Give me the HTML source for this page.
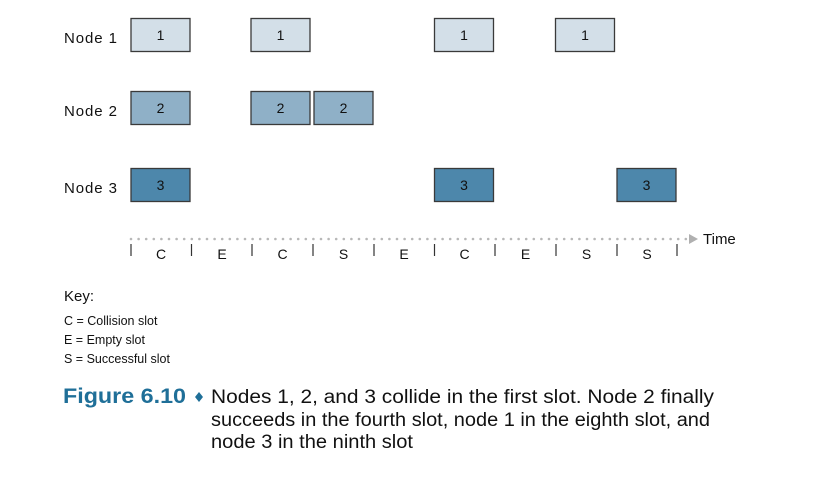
<!DOCTYPE html>
<html><head><meta charset="utf-8"><style>
html,body{margin:0;padding:0;background:#fff;}
svg{display:block;font-family:"Liberation Sans",sans-serif;}
</style></head><body>
<svg width="836" height="488" viewBox="0 0 836 488" xmlns="http://www.w3.org/2000/svg">
<g font-size="15" fill="#111">
<text x="64" y="43" textLength="53">Node 1</text>
<text x="64" y="116" textLength="53">Node 2</text>
<text x="64" y="193" textLength="53">Node 3</text>
</g>
<g stroke="#3a3a3a" stroke-width="1.3">
<rect x="131" y="18.5" width="59" height="33" fill="#d3dfe8"/>
<rect x="251" y="18.5" width="59" height="33" fill="#d3dfe8"/>
<rect x="434.5" y="18.5" width="59" height="33" fill="#d3dfe8"/>
<rect x="555.5" y="18.5" width="59" height="33" fill="#d3dfe8"/>
<rect x="131" y="91.5" width="59" height="33" fill="#8fb0c7"/>
<rect x="251" y="91.5" width="59" height="33" fill="#8fb0c7"/>
<rect x="314" y="91.5" width="59" height="33" fill="#8fb0c7"/>
<rect x="131" y="168.5" width="59" height="33" fill="#4d87ab"/>
<rect x="434.5" y="168.5" width="59" height="33" fill="#4d87ab"/>
<rect x="617" y="168.5" width="59" height="33" fill="#4d87ab"/>
</g>
<g font-size="14" fill="#111" text-anchor="middle">
<text x="160.5" y="40">1</text><text x="280.5" y="40">1</text><text x="464" y="40">1</text><text x="585" y="40">1</text>
<text x="160.5" y="113">2</text><text x="280.5" y="113">2</text><text x="343.5" y="113">2</text>
<text x="160.5" y="190">3</text><text x="464" y="190">3</text><text x="646.5" y="190">3</text>
</g>
<line x1="131" y1="239" x2="686" y2="239" stroke="#b8b8b8" stroke-width="2.6" stroke-linecap="round" stroke-dasharray="0 7.6"/>
<polygon points="689,234 698,239 689,244" fill="#b0b0b0"/>
<text x="703" y="244" font-size="15" fill="#111">Time</text>
<g stroke="#333" stroke-width="1.2">
<line x1="131" y1="244" x2="131" y2="256"/><line x1="191.5" y1="244" x2="191.5" y2="256"/>
<line x1="252" y1="244" x2="252" y2="256"/><line x1="313" y1="244" x2="313" y2="256"/>
<line x1="374" y1="244" x2="374" y2="256"/><line x1="434.5" y1="244" x2="434.5" y2="256"/>
<line x1="495" y1="244" x2="495" y2="256"/><line x1="556" y1="244" x2="556" y2="256"/>
<line x1="617" y1="244" x2="617" y2="256"/><line x1="677" y1="244" x2="677" y2="256"/>
</g>
<g font-size="14" fill="#111" text-anchor="middle">
<text x="161" y="259">C</text><text x="222" y="259">E</text><text x="282.5" y="259">C</text>
<text x="343.5" y="259">S</text><text x="404" y="259">E</text><text x="464.5" y="259">C</text>
<text x="525.5" y="259">E</text><text x="586.5" y="259">S</text><text x="647" y="259">S</text>
</g>
<text x="64" y="301" font-size="15" fill="#111">Key:</text>
<g font-size="12.5" fill="#111">
<text x="64" y="325">C = Collision slot</text>
<text x="64" y="344">E = Empty slot</text>
<text x="64" y="363">S = Successful slot</text>
</g>
<text x="63" y="403" font-size="21" font-weight="bold" fill="#1f6f98" textLength="123" lengthAdjust="spacingAndGlyphs">Figure 6.10</text>
<polygon points="199,392 203,397 199,402 195,397" fill="#1f6f98"/>
<g font-size="19" fill="#111">
<text x="211" y="403" textLength="503" lengthAdjust="spacingAndGlyphs">Nodes 1, 2, and 3 collide in the first slot. Node 2 finally</text>
<text x="211" y="426" textLength="499" lengthAdjust="spacingAndGlyphs">succeeds in the fourth slot, node 1 in the eighth slot, and</text>
<text x="211" y="448" textLength="202" lengthAdjust="spacingAndGlyphs">node 3 in the ninth slot</text>
</g>
</svg>
</body></html>
